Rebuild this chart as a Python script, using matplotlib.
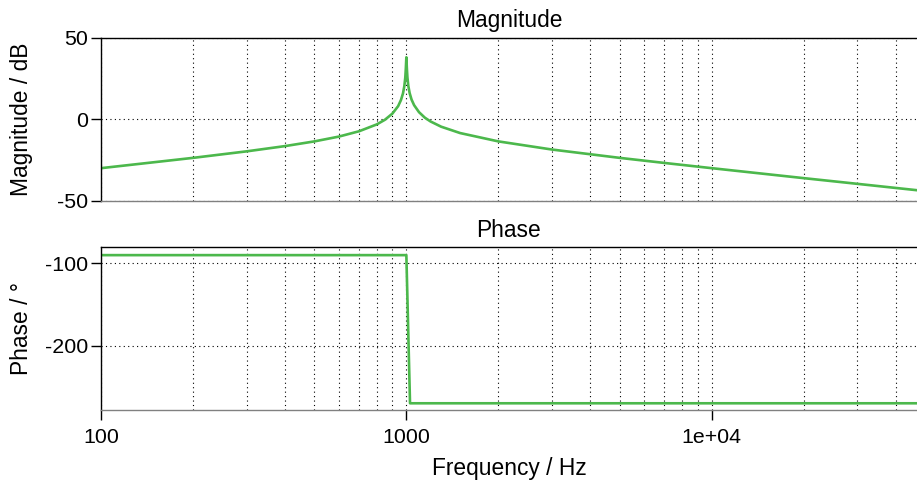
import matplotlib

matplotlib.use("Agg")
import matplotlib.pyplot as plt  # noqa: E402
from matplotlib.ticker import FixedLocator, LogLocator, NullFormatter  # noqa: E402

plt.rcParams["font.family"] = ["Liberation Sans", "DejaVu Sans"]
plt.rcParams["axes.unicode_minus"] = False

# values
freq_hz = [100, 200, 300, 400, 500, 600, 700, 800, 850, 900, 940, 960, 975, 985,
           992, 996, 1000, 1004, 1008, 1015, 1025, 1040, 1060, 1100, 1150, 1200,
           1300, 1500, 2000, 3000, 5000, 7000, 10000, 20000, 30000, 47000]
magnitude_db = [-29.9, -23.6, -19.6, -16.4, -13.5, -10.6, -7.3, -3.1, -0.3, 3.5,
                8.1, 11.8, 15.9, 20.4, 25.6, 31.0, 38.0, 31.0, 25.7, 20.4, 16.1,
                12.1, 8.7, 4.4, 1.0, -1.3, -4.5, -8.4, -13.5, -18.5, -23.6, -26.7,
                -29.9, -36.0, -39.5, -43.4]

phase_freq_hz = [100, 1000, 1028, 47000]
phase_deg = [-90, -90, -270, -270]

x_ticks = [100, 1000, 10000]
x_tick_labels = ["100", "1000", "1e+04"]
mag_ticks = [-50, 0, 50]
phase_ticks = [-200, -100]

GREEN = "#4cb84c"
FS = 16.4


def style_axes(ax):
    ax.set_xscale("log")
    ax.set_xlim(100, 47000)
    ax.spines["right"].set_visible(False)
    ax.spines["top"].set_color("black")
    ax.spines["left"].set_color("black")
    ax.spines["bottom"].set_color("#808080")
    for s in ax.spines.values():
        s.set_linewidth(1.0)
    ax.xaxis.set_major_locator(FixedLocator(x_ticks))
    ax.xaxis.set_minor_locator(LogLocator(base=10, subs=range(2, 10)))
    ax.xaxis.set_minor_formatter(NullFormatter())
    ax.tick_params(axis="x", which="minor", length=0)
    ax.tick_params(axis="both", which="major", direction="out", length=7,
                   width=1.0, labelsize=15.4, color="black")
    ax.tick_params(axis="y", pad=2)
    ax.tick_params(axis="x", pad=6)
    grid_kw = dict(color="black", linestyle=(0, (1, 3)), linewidth=0.8)
    ax.grid(True, which="both", axis="x", **grid_kw)
    ax.grid(True, which="major", axis="y", **grid_kw)
    ax.set_axisbelow(True)


fig = plt.figure(figsize=(9.17, 4.82), dpi=100)
ax1 = fig.add_axes([0.1101, 0.583, 0.8899, 0.3388])
ax2 = fig.add_axes([0.1101, 0.1488, 0.8899, 0.3381])

style_axes(ax1)
ax1.plot(freq_hz, magnitude_db, color=GREEN, linewidth=1.9)
ax1.set_ylim(-50, 50)
ax1.set_yticks(mag_ticks)
ax1.tick_params(axis="x", which="major", length=0, labelbottom=False)
ax1.set_title("Magnitude", fontsize=FS, pad=7.8)
ax1.set_ylabel("Magnitude / dB", fontsize=FS)
ax1.yaxis.set_label_coords(-0.083, 0.5)

style_axes(ax2)
ax2.plot(phase_freq_hz, phase_deg, color=GREEN, linewidth=1.9)
ax2.set_ylim(-278.5, -80.5)
ax2.set_yticks(phase_ticks)
ax2.set_xticklabels(x_tick_labels)
ax2.set_title("Phase", fontsize=FS, pad=7.6)
ax2.set_ylabel("Phase / °", fontsize=FS)
ax2.yaxis.set_label_coords(-0.083, 0.5)
ax2.set_xlabel("Frequency / Hz", fontsize=FS)
ax2.xaxis.set_label_coords(0.5, -0.286)

fig.savefig("out.png", dpi=100)
